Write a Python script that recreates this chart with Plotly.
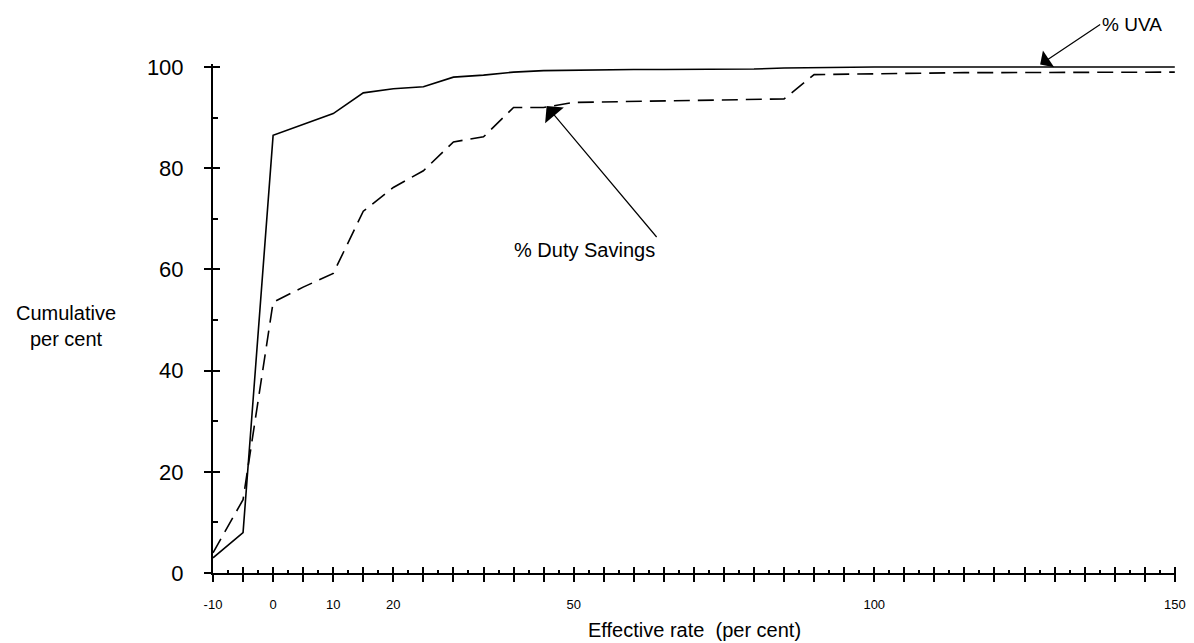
import plotly.graph_objects as go

# Effective rate (per cent)
rate = [-10, -5, 0, 5, 10, 15, 20, 25, 30, 35, 40, 45, 50, 55, 60, 65, 70, 75,
        80, 85, 90, 95, 100, 105, 110, 115, 120, 125, 130, 135, 140, 145, 150]

# Cumulative per cent - % UVA (solid)
uva_pct = [3, 8, 86.5, 88.7, 90.8, 94.9, 95.7, 96.1, 98.0, 98.4, 99.0, 99.3, 99.4,
           99.4, 99.5, 99.5, 99.5, 99.6, 99.6, 99.8, 99.9, 99.9, 100, 100, 100, 100,
           100, 100, 100, 100, 100, 100, 100]

# Cumulative per cent - % Duty Savings (dashed)
duty_pct = [4, 14.5, 53.5, 56.5, 59.2, 71.5, 76.2, 79.5, 85.2, 86.2, 92.0, 92.0, 93.0,
            93.1, 93.2, 93.3, 93.4, 93.5, 93.6, 93.7, 98.5, 98.6, 98.7, 98.8, 98.8,
            98.9, 98.9, 98.9, 99.0, 99.0, 99.0, 99.0, 99.0]

x_tick_vals = rate
x_tick_labelled = {-10: "-10", 0: "0", 10: "10", 20: "20", 50: "50", 100: "100", 150: "150"}
x_tick_text = [x_tick_labelled.get(v, "") for v in x_tick_vals]
x_minor_vals = [v + 2.5 for v in rate[:-1]]

y_tick_vals = [0, 20, 40, 60, 80, 100]
y_tick_text = ["0", "20", "40", "60", "80", "100"]
y_minor_vals = [10, 30, 50, 70, 90]

FONT = "Liberation Sans, Arial, sans-serif"
X_RANGE = [-10, 150.2]
Y_RANGE = [0, 100.6]

fig = go.Figure()
fig.add_trace(go.Scatter(x=rate, y=uva_pct, mode="lines", name="% UVA",
                         line=dict(color="black", width=1.6), hoverinfo="skip"))
fig.add_trace(go.Scatter(x=rate, y=duty_pct, mode="lines", name="% Duty Savings",
                         line=dict(color="black", width=1.6, dash="16px,8px"), hoverinfo="skip"))
# dummy traces so that the overlay axes (used for crossing ticks) are drawn
fig.add_trace(go.Scatter(x=[None], y=[None], xaxis="x2", yaxis="y", showlegend=False, hoverinfo="skip"))
fig.add_trace(go.Scatter(x=[None], y=[None], xaxis="x", yaxis="y2", showlegend=False, hoverinfo="skip"))

fig.update_layout(
    width=1178, height=635,
    margin=dict(l=205, r=10, t=56, b=70, autoexpand=False),
    paper_bgcolor="white", plot_bgcolor="white",
    showlegend=False,
    font=dict(family=FONT, color="black"),
    xaxis=dict(range=X_RANGE, tickmode="array", tickvals=x_tick_vals, ticktext=x_tick_text,
               ticks="outside", ticklen=7, tickwidth=1.5, tickcolor="black",
               showline=True, linecolor="black", linewidth=1.5,
               showgrid=False, zeroline=False, automargin=False,
               tickfont=dict(size=13, family=FONT), ticklabelstandoff=12,
               minor=dict(tickmode="array", tickvals=x_minor_vals, ticks="inside",
                          ticklen=3, tickwidth=1.5, tickcolor="black", showgrid=False)),
    xaxis2=dict(range=X_RANGE, overlaying="x", anchor="y", side="bottom",
                tickmode="array", tickvals=x_tick_vals, ticks="inside", ticklen=6,
                tickwidth=1.5, tickcolor="black", showticklabels=False, automargin=False,
                showline=False, showgrid=False, zeroline=False),
    yaxis=dict(range=Y_RANGE, tickmode="array", tickvals=y_tick_vals, ticktext=y_tick_text,
               ticks="outside", ticklen=7, tickwidth=1.5, tickcolor="black",
               showline=True, linecolor="black", linewidth=2,
               showgrid=False, zeroline=False, automargin=False,
               tickfont=dict(size=22, family=FONT), ticklabelstandoff=16,
               minor=dict(tickmode="array", tickvals=y_minor_vals, ticks="inside",
                          ticklen=5, tickwidth=1.5, tickcolor="black", showgrid=False)),
    yaxis2=dict(range=Y_RANGE, overlaying="y", anchor="x", side="left",
                tickmode="array", tickvals=y_tick_vals, ticks="inside", ticklen=7,
                tickwidth=1.5, tickcolor="black", showticklabels=False, automargin=False,
                showline=False, showgrid=False, zeroline=False),
)

fig.add_annotation(x=127.6, y=100.5, xref="x", yref="y", text="% UVA",
                   showarrow=True, arrowhead=1, arrowsize=2.8, arrowwidth=1.2,
                   arrowcolor="black", ax=60, ay=-40, xanchor="left", yanchor="middle",
                   font=dict(size=19, family=FONT))
fig.add_annotation(x=45.5, y=92.3, xref="x", yref="y", text="% Duty Savings",
                   showarrow=True, arrowhead=1, arrowsize=3.4, arrowwidth=1.2,
                   arrowcolor="black", ax=110, ay=131, xanchor="right", yanchor="top",
                   font=dict(size=20, family=FONT))
fig.add_annotation(x=-0.1527, y=0.485, xref="paper", yref="paper",
                   xanchor="center", yanchor="middle",
                   text="Cumulative<br>per cent", showarrow=False,
                   font=dict(size=20, family=FONT), align="center")
fig.add_annotation(x=0.5, y=-0.112, xref="paper", yref="paper",
                   xanchor="center", yanchor="middle",
                   text="Effective rate  (per cent)", showarrow=False,
                   font=dict(size=20, family=FONT))

fig.write_html("out.html")
